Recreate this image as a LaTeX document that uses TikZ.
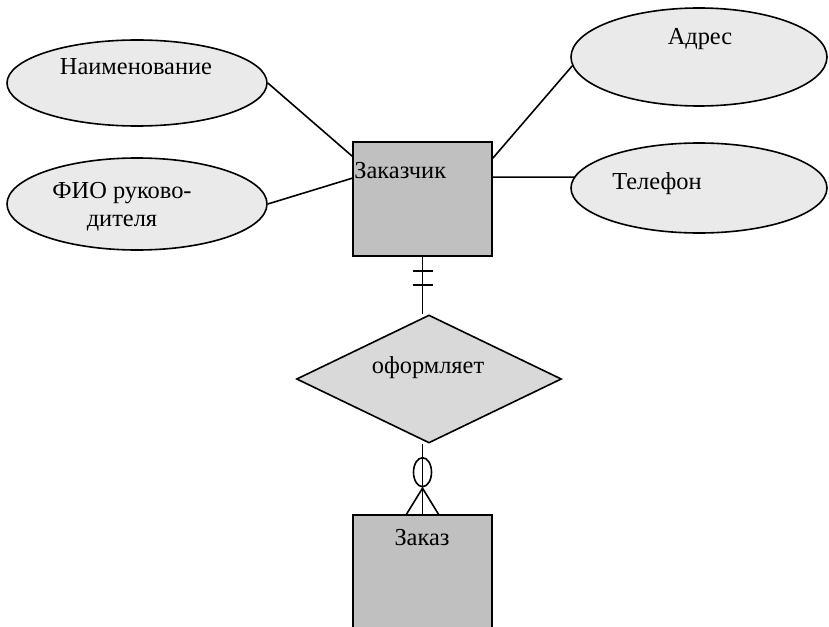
\documentclass[tikz,border=0pt]{standalone}
\usepackage{fontspec}
\setmainfont{Liberation Serif}
\usetikzlibrary{shapes.geometric,calc}
\definecolor{attrfill}{HTML}{EAEAEA}
\definecolor{entfill}{HTML}{C0C0C0}
\definecolor{relfill}{HTML}{D9D9D9}
\begin{document}
\begin{tikzpicture}[x=0.5pt,y=-0.5pt,
  every node/.style={font=\fontsize{12.2}{14}\selectfont},
  attr/.style={ellipse,draw,line width=0.8pt,fill=attrfill,inner sep=0pt},
  ent/.style={rectangle,draw,line width=0.8pt,fill=entfill,inner sep=0pt},
  rel/.style={diamond,draw,line width=0.8pt,fill=relfill,inner sep=0pt},
  conn/.style={line width=0.8pt},
  lbl/.style={inner sep=0pt}]
\clip (0,0) rectangle (829,626);
% entities
\node[ent,minimum width=69.5pt,minimum height=57pt] (cust) at (422.5,199) {};
\node[ent,minimum width=69.5pt,minimum height=70pt] (ord) at (422.5,585) {};
% relationship
\node[rel,minimum width=132.5pt,minimum height=64pt] (rel) at (429,379) {};
% attributes
\node[attr,minimum width=130pt,minimum height=43pt] (name) at (137,83) {};
\node[attr,minimum width=130pt,minimum height=46pt] (fio) at (137,204) {};
\node[attr,minimum width=128pt,minimum height=49pt] (addr) at (699,57) {};
\node[attr,minimum width=128pt,minimum height=45pt] (tel) at (699,188) {};
% labels
\node[lbl] (tname) at (136,67) {Наименование};
\node[lbl,align=center] (tfio) at (122,207) {ФИО руково-\\дителя};
\node[lbl] (taddr) at (700,39) {Адрес};
\node[lbl] (ttel) at (657,184) {Телефон};
\node[lbl,anchor=west] (tcust) at (354,171) {Заказчик};
\node[lbl] (trel) at (428,368) {оформляет};
\node[lbl] (tord) at (422,538) {Заказ};
% connectors
\draw[conn] (name.east) -- ($(cust.north west)+(0,15)$);
\draw[conn] (fio.east) -- ($(cust.north west)+(0,37)$);
\draw[conn] ($(cust.north east)+(0,17)$) -- (addr.184);
\draw[conn] ($(cust.north east)+(0,36)$) -- (tel.175);
\draw[conn] (cust.south) -- (cust.south |- rel.north);
\draw[conn] ($(cust.south)+(-10,14)$) -- ++(20,0);
\draw[conn] ($(cust.south)+(-10,28)$) -- ++(20,0);
\draw[conn] (ord.north |- rel.south) -- (ord.north);
\draw[conn] ($(ord.north)+(0,-42)$) ellipse (9 and 14.5);
\draw[conn] ($(ord.north)+(-16,0)$) -- ($(ord.north)+(0,-26)$) -- ($(ord.north)+(16,0)$);
\end{tikzpicture}
\end{document}
